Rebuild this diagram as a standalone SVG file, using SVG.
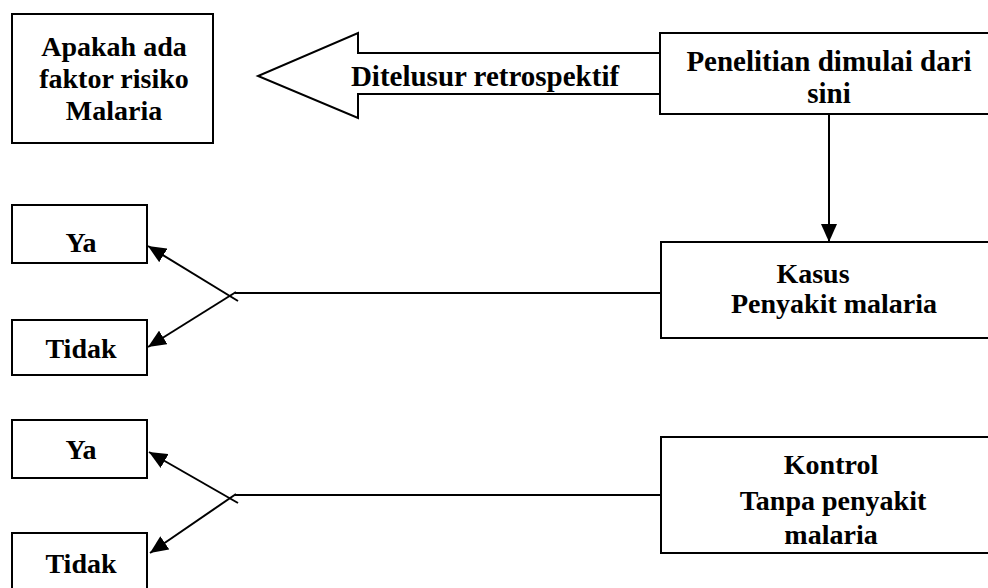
<svg xmlns="http://www.w3.org/2000/svg" width="988" height="588" viewBox="0 0 988 588">
  <style>
    .box { fill: #fff; stroke: #000; stroke-width: 2; }
    .lbl { font-family: "Liberation Serif", "Times New Roman", serif; font-weight: bold; font-size: 28px; fill: #000; text-anchor: middle; }
    .big { font-size: 29px; }
    .conn { fill: none; stroke: #000; stroke-width: 2; }
  </style>
  <defs>
    <marker id="tri" viewBox="0 0 18 16" refX="18" refY="8" markerWidth="18" markerHeight="16" markerUnits="userSpaceOnUse" orient="auto">
      <path d="M0,0 L18,8 L0,16 z" fill="#000"/>
    </marker>
  </defs>
  <rect width="988" height="588" fill="#fff"/>

  <!-- connectors -->
  <g id="connectors">
    <!-- block arrow: traced back retrospectively -->
    <path class="conn" d="M660,53 L358,53 L358,33 L258,76 L358,118 L358,94 L660,94"/>
    <!-- start of study down to cases -->
    <line class="conn" x1="829" y1="114" x2="829" y2="242" marker-end="url(#tri)"/>
    <!-- cases branch -->
    <line class="conn" x1="235" y1="293" x2="661" y2="293"/>
    <line class="conn" x1="238" y1="301" x2="148" y2="246" marker-end="url(#tri)"/>
    <line class="conn" x1="236" y1="292" x2="148" y2="347" marker-end="url(#tri)"/>
    <!-- controls branch -->
    <line class="conn" x1="235" y1="495" x2="661" y2="495"/>
    <line class="conn" x1="238" y1="503" x2="149" y2="452" marker-end="url(#tri)"/>
    <line class="conn" x1="236" y1="494" x2="150" y2="553" marker-end="url(#tri)"/>
  </g>

  <g id="faktor">
    <rect class="box" x="12" y="14" width="201" height="129"/>
    <text class="lbl" x="114" y="56">Apakah ada</text>
    <text class="lbl" x="114" y="88">faktor risiko</text>
    <text class="lbl" x="114" y="120">Malaria</text>
  </g>

  <g id="retro-label">
    <text class="lbl big" x="485" y="86">Ditelusur retrospektif</text>
  </g>

  <g id="mulai">
    <rect class="box" x="660" y="33" width="340" height="81"/>
    <text class="lbl big" x="829" y="71">Penelitian dimulai dari</text>
    <text class="lbl big" x="829" y="103">sini</text>
  </g>

  <g id="kasus">
    <rect class="box" x="661" y="242" width="340" height="96"/>
    <text class="lbl" x="813" y="283">Kasus</text>
    <text class="lbl" x="834" y="313">Penyakit malaria</text>
  </g>

  <g id="kontrol">
    <rect class="box" x="661" y="437" width="340" height="116"/>
    <text class="lbl" x="831" y="474">Kontrol</text>
    <text class="lbl" x="833" y="510">Tanpa penyakit</text>
    <text class="lbl" x="831" y="544">malaria</text>
  </g>

  <g id="ya-kasus">
    <rect class="box" x="12" y="205" width="135" height="58"/>
    <text class="lbl" x="81" y="252">Ya</text>
  </g>
  <g id="tidak-kasus">
    <rect class="box" x="12" y="320" width="135" height="55"/>
    <text class="lbl" x="81" y="358">Tidak</text>
  </g>
  <g id="ya-kontrol">
    <rect class="box" x="12" y="420" width="135" height="58"/>
    <text class="lbl" x="81" y="459">Ya</text>
  </g>
  <g id="tidak-kontrol">
    <rect class="box" x="12" y="533" width="135" height="70"/>
    <text class="lbl" x="81" y="573">Tidak</text>
  </g>
</svg>
